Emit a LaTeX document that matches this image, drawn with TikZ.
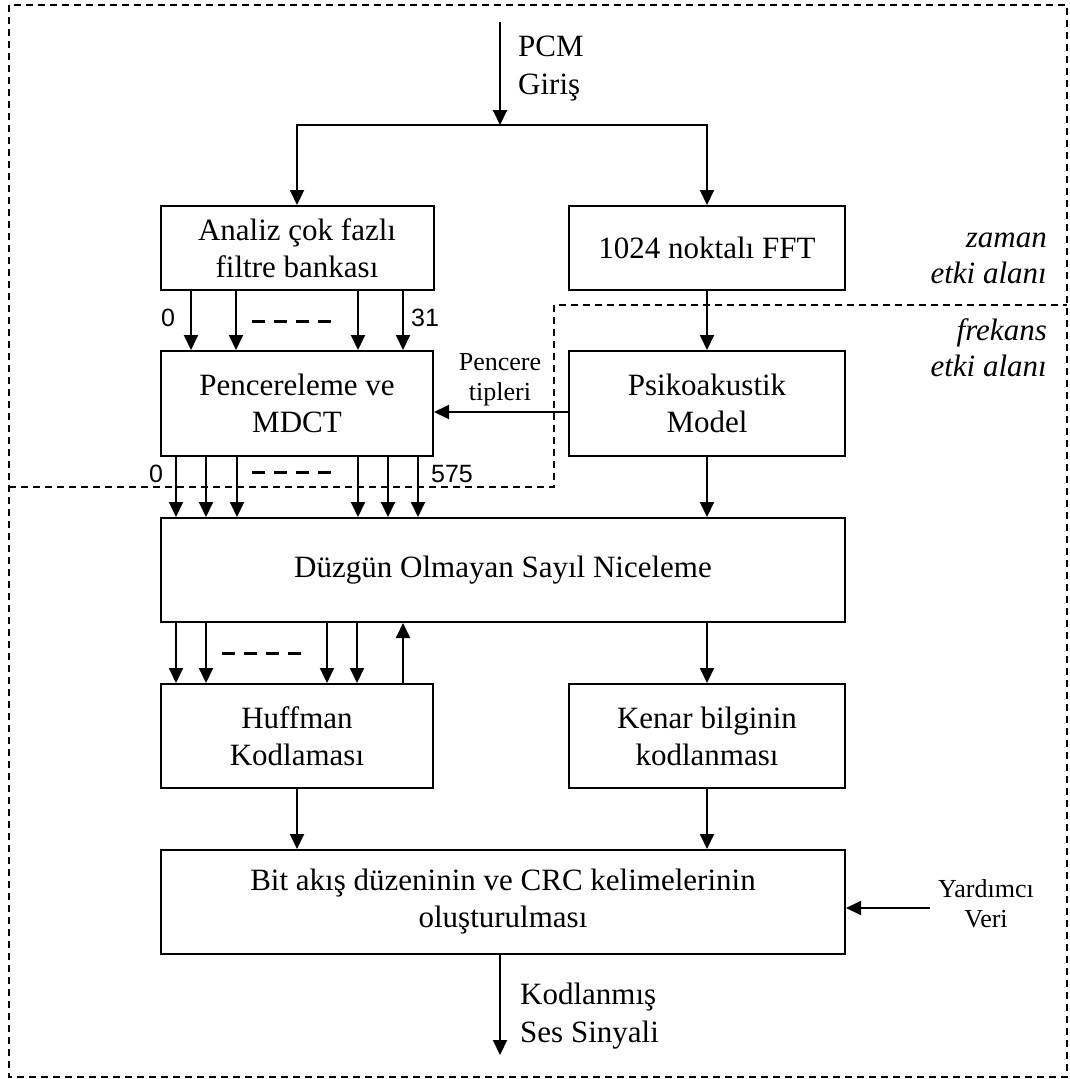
\documentclass[tikz,border=0pt]{standalone}
\usepackage{fontspec}
\setmainfont{Liberation Serif}
\newfontfamily\numfont{Liberation Sans}
\usetikzlibrary{arrows.meta}

\begin{document}
\begin{tikzpicture}[x=1pt,y=-1pt,
  box/.style={draw,line width=2pt,inner sep=0pt,align=center,
    font=\fontsize{31}{37}\selectfont},
  narrowbox/.style={box,minimum width=272pt,minimum height=104pt},
  arr/.style={line width=2pt,-{Triangle[length=15pt,width=14pt]}},
  frame/.style={line width=1.4pt,dash pattern=on 7pt off 5pt},
  busdash/.style={line width=3pt,dash pattern=on 13pt off 9pt},
  lbl/.style={inner sep=0pt,align=left,font=\fontsize{31}{38}\selectfont},
  small/.style={inner sep=0pt,align=center,font=\fontsize{26}{30}\selectfont},
  dom/.style={inner sep=0pt,align=right,font=\itshape\fontsize{31}{36}\selectfont},
  idx/.style={inner sep=0pt,font=\numfont\fontsize{25}{25}\selectfont}]

\useasboundingbox (0,0) rectangle (1070,1079);

% outer frame of the encoder
\draw[frame] (9,5) rectangle (1067,1077);

% time / frequency domain border
\draw[frame] (9,487) -- (554,487) -- (554,305) -- (1067,305);
\node[dom,anchor=east] (zaman) at (1047,258) {zaman\\etki alanı};
\node[dom,anchor=east] (frek) at (1047,348) {frekans\\etki alanı};

% processing blocks
\node[box,minimum width=273pt,minimum height=84pt] (analiz) at (297,248)
  {Analiz çok fazlı\\filtre bankası};
\node[box,minimum width=276pt,minimum height=84pt] (fft) at (707,248)
  {1024 noktalı FFT};
\node[box,minimum width=272pt,minimum height=105pt] (pencere) at (297,403.5)
  {Pencereleme ve\\MDCT};
\node[box,minimum width=276pt,minimum height=105pt] (psiko) at (707,403.5)
  {Psikoakustik\\Model};
\node[box,minimum width=684pt,minimum height=104pt] (nicel) at (503,570)
  {Düzgün Olmayan Sayıl Niceleme};
\node[narrowbox] (huff) at (297,736) {Huffman\\Kodlaması};
\node[box,minimum width=276pt,minimum height=104pt] (kenar) at (707,736)
  {Kenar bilginin\\kodlanması};
\node[box,minimum width=684pt,minimum height=104pt] (bit) at (503,902)
  {Bit akış düzeninin ve CRC kelimelerinin\\oluşturulması};

% input
\coordinate (pcmtop) at (500,22);
\coordinate (split) at (500,125);
\draw[arr] (pcmtop) -- (split);
\node[lbl,anchor=west] (pcm) at (518,69) {PCM\\Giriş};
\draw[arr] (split) -| (analiz.north);
\draw[arr] (split) -| (fft.north);

% subbands 0..31
\foreach \x in {191,236,358,403}
  \draw[arr] (\x,0 |- analiz.south) -- (\x,0 |- pencere.north);
\draw[busdash] (252,321) -- (335,321);
\node[idx] (sb0) at (168,318) {0};
\node[idx] (sb31) at (425,318) {31};

% spectral lines 0..575
\foreach \x in {176,206,237,358,388,418}
  \draw[arr] (\x,0 |- pencere.south) -- (\x,0 |- nicel.north);
\draw[busdash] (252,472) -- (335,472);
\node[idx] (ln0) at (156,474) {0};
\node[idx] (ln575) at (452,474) {575};

% psychoacoustic path
\draw[arr] (fft.south) -- (psiko.north);
\draw[arr] (psiko.west |- 0,412) -- (pencere.east |- 0,412);
\node[small] (ptip) at (500,380) {Pencere\\tipleri};
\draw[arr] (psiko.south) -- (nicel.north -| psiko.south);

% quantizer to Huffman coding and back
\foreach \x in {176,206,327,357}
  \draw[arr] (\x,0 |- nicel.south) -- (\x,0 |- huff.north);
\draw[busdash] (222,653) -- (305,653);
\draw[arr] (403,0 |- huff.north) -- (403,0 |- nicel.south);

% side information
\draw[arr] (nicel.south -| kenar.north) -- (kenar.north);

% bitstream formatting
\draw[arr] (huff.south) -- (bit.north -| huff.south);
\draw[arr] (kenar.south) -- (bit.north -| kenar.south);
\coordinate (auxin) at (930,908);
\draw[arr] (auxin) -- (bit.east |- auxin);
\node[small] (aux) at (986,904) {Yardımcı\\Veri};

% output
\coordinate (outend) at (500,1055);
\draw[arr] (bit.south -| outend) -- (outend);
\node[lbl,anchor=west] (out) at (520,1016) {Kodlanmış\\Ses Sinyali};

\end{tikzpicture}
\end{document}
